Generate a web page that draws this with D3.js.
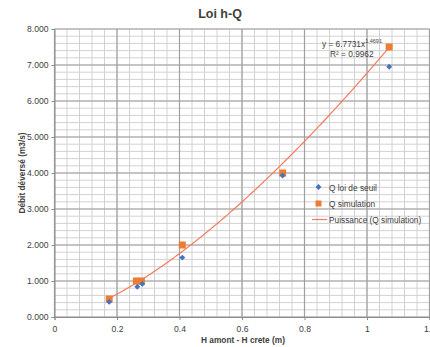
<!DOCTYPE html>
<html>
<head>
<meta charset="utf-8">
<script src="https://cdn.jsdelivr.net/npm/d3@7"></script>
<style>
  body { margin: 0; background: #fff; }
  svg { font-family: "Liberation Sans", Arial, sans-serif; }
</style>
</head>
<body>
<svg width="430" height="347"></svg>
<script>
// values
var hSeuil = [0.175, 0.265, 0.281, 0.409, 0.73, 1.071];
var qSeuil = [0.42, 0.84, 0.92, 1.65, 3.93, 6.95];
var hSim = [0.175, 0.262, 0.278, 0.409, 0.73, 1.071];
var qSim = [0.5, 1.0, 1.0, 2.0, 4.0, 7.5];
var fitA = 6.7731, fitB = 1.4691;
var xTicks = [0, 0.2, 0.4, 0.6, 0.8, 1, 1.2];
var yTicks = [0, 1, 2, 3, 4, 5, 6, 7, 8];
var legendLabels = ["Q loi de seuil", "Q simulation", "Puissance (Q simulation)"];

var svg = d3.select("svg"),
    pLeft = 54.5, pRight = 429.5, pTop = 29, pBottom = 317,
    small = "8.3px";

var x = d3.scaleLinear().domain([0, 1.2]).range([pLeft, pRight]);
var y = d3.scaleLinear().domain([0, 8]).range([pBottom, pTop]);

// minor grid
var g = svg.append("g");
g.selectAll("line.vminor")
  .data(d3.range(0, 1.2001, 0.04))
  .enter().append("line")
    .attr("x1", function(d) { return x(d); }).attr("x2", function(d) { return x(d); })
    .attr("y1", pTop).attr("y2", pBottom)
    .attr("stroke", "#d2d2d2").attr("stroke-width", 1);
g.selectAll("line.hminor")
  .data(d3.range(0, 8.0001, 0.2))
  .enter().append("line")
    .attr("y1", function(d) { return y(d); }).attr("y2", function(d) { return y(d); })
    .attr("x1", pLeft).attr("x2", pRight)
    .attr("stroke", "#d2d2d2").attr("stroke-width", 1);

// major grid
g.selectAll("line.vmajor")
  .data(xTicks)
  .enter().append("line")
    .attr("x1", function(d) { return x(d); }).attr("x2", function(d) { return x(d); })
    .attr("y1", pTop).attr("y2", pBottom)
    .attr("stroke", "#a0a0a0").attr("stroke-width", 1.2);
g.selectAll("line.hmajor")
  .data(yTicks)
  .enter().append("line")
    .attr("y1", function(d) { return y(d); }).attr("y2", function(d) { return y(d); })
    .attr("x1", pLeft).attr("x2", pRight)
    .attr("stroke", "#a0a0a0").attr("stroke-width", 1.2);

// axes
var xAxis = svg.append("g")
  .attr("transform", "translate(0," + pBottom + ")")
  .call(d3.axisBottom(x).tickValues(xTicks).tickSize(3).tickFormat(d3.format("")));
var yAxis = svg.append("g")
  .attr("transform", "translate(" + pLeft + ",0)")
  .call(d3.axisLeft(y).tickValues(yTicks).tickSize(3).tickFormat(d3.format(".3f")));
[xAxis, yAxis].forEach(function(a) {
  a.select(".domain").attr("stroke", "#8c8c8c");
  a.selectAll(".tick line").attr("stroke", "#8c8c8c");
  a.selectAll("text").attr("fill", "#404040").style("font-size", "8.6px")
    .style("font-family", "'Liberation Sans', Arial, sans-serif");
});
xAxis.selectAll("text").attr("dy", "1.1em");
yAxis.selectAll("text").attr("x", -6);

// trendline
var fitX = d3.range(0, 201).map(function(i) { return hSim[0] + (hSim[5] - hSim[0]) * i / 200; });
svg.append("path")
  .datum(fitX)
  .attr("fill", "none")
  .attr("stroke", "#f47a5e")
  .attr("stroke-width", 1.2)
  .attr("d", d3.line()
    .x(function(d) { return x(d); })
    .y(function(d) { return y(fitA * Math.pow(d, fitB)); }));

// Q simulation squares
svg.selectAll("rect.sim")
  .data(hSim)
  .enter().append("rect")
    .attr("x", function(d) { return x(d) - 3.5; })
    .attr("y", function(d, i) { return y(qSim[i]) - 3.5; })
    .attr("width", 7).attr("height", 7)
    .attr("fill", "#ed7d31");

// Q loi de seuil diamonds
var diamond = d3.symbol().type(d3.symbolDiamond2).size(22);
svg.selectAll("path.seuil")
  .data(hSeuil)
  .enter().append("path")
    .attr("d", diamond)
    .attr("transform", function(d, i) { return "translate(" + x(d) + "," + y(qSeuil[i]) + ")"; })
    .attr("fill", "#4472c4");

// equation
var eq = svg.append("text").attr("x", 322).attr("y", 46.5)
  .attr("fill", "#404040").style("font-size", small);
eq.append("tspan").text("y = 6.7731x");
eq.append("tspan").attr("dy", -4).style("font-size", "5.5px").text("1.4691");
svg.append("text").attr("x", 330).attr("y", 57)
  .attr("fill", "#404040").style("font-size", small).text("R² = 0.9962");

// legend
var lg = svg.append("g");
lg.append("path").attr("d", diamond)
  .attr("transform", "translate(318.5,187)").attr("fill", "#4472c4");
lg.append("rect").attr("x", 315.5).attr("y", 200.5).attr("width", 6).attr("height", 6)
  .attr("fill", "#ed7d31");
lg.append("line").attr("x1", 312).attr("x2", 327).attr("y1", 219.5).attr("y2", 219.5)
  .attr("stroke", "#f47a5e").attr("stroke-width", 1.2);
lg.selectAll("text")
  .data(legendLabels)
  .enter().append("text")
    .attr("x", 329)
    .attr("y", function(d, i) { return 190.5 + i * 16.2; })
    .attr("fill", "#404040").style("font-size", small)
    .text(function(d) { return d; });

// titles
svg.append("text").attr("x", 220).attr("y", 18).attr("text-anchor", "middle")
  .attr("fill", "#404040").style("font-size", "12.5px").style("font-weight", "bold").text("Loi h-Q");
svg.append("text").attr("x", 243).attr("y", 343).attr("text-anchor", "middle")
  .attr("fill", "#404040").style("font-size", small).style("font-weight", "bold").text("H amont - H crete (m)");
svg.append("text").attr("transform", "translate(25," + (pTop + pBottom) / 2 + ") rotate(-90)")
  .attr("text-anchor", "middle")
  .attr("fill", "#404040").style("font-size", small).style("font-weight", "bold").text("Débit déversé (m3/s)");
</script>
</body>
</html>
